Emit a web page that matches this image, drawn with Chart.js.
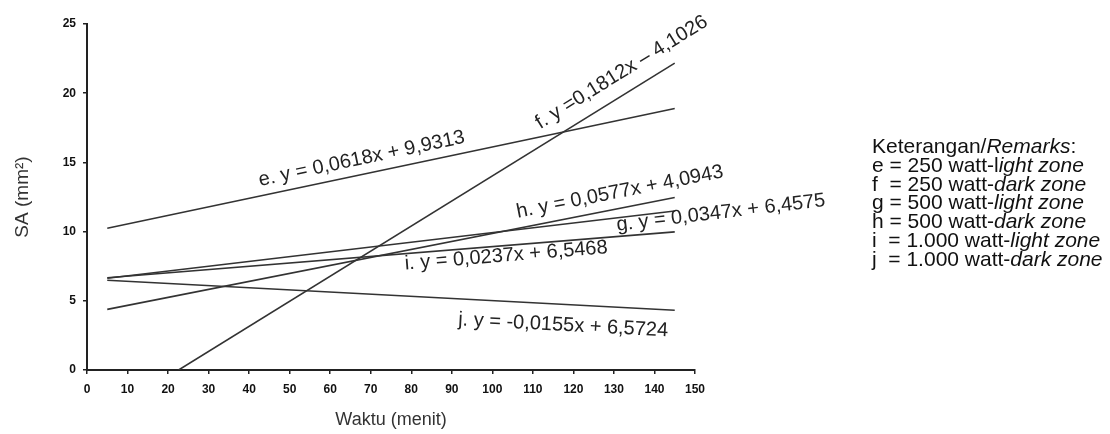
<!DOCTYPE html>
<html>
<head>
<meta charset="utf-8">
<script src="https://cdn.jsdelivr.net/npm/chart.js@4.4.0/dist/chart.umd.min.js"></script>
<style>
  html, body { margin: 0; padding: 0; background: #fff; }
  #wrap { position: relative; width: 1110px; height: 434px; }
  #legend {
    position: absolute; left: 872px; top: 137px;
    font: 21px "Liberation Sans", Arial, sans-serif;
    line-height: 18.8px; color: #111; white-space: pre;
  }
</style>
</head>
<body>
<div id="wrap">
  <canvas id="myChart" width="1110" height="434"></canvas>
  <div id="legend">Keterangan/<i>Remarks</i>:
e = 250 watt-l<i>ight zone</i>
f  = 250 watt-<i>dark zone</i>
g = 500 watt-<i>light zone</i>
h = 500 watt-<i>dark zone</i>
i  = 1.000 watt-<i>light zone</i>
j  = 1.000 watt-<i>dark zone</i></div>
</div>
<script>
// regression lines (start / end of each drawn segment)
const seriesNames = ['e', 'f', 'g', 'h', 'i', 'j'];
const startX = [5, 22.6, 5, 5, 5, 5];
const startY = [10.24, 0, 6.63, 4.38, 6.67, 6.49];
const endX = [145, 145, 145, 145, 145, 145];
const endY = [18.89, 22.17, 11.49, 12.46, 9.98, 4.32];
const equations = [
  'e. y = 0,0618x + 9,9313',
  'f. y =0,1812x \u2013 4,1026',
  'g. y = 0,0347x + 6,4575',
  'h. y = 0,0577x + 4,0943',
  'i. y = 0,0237x + 6,5468',
  'j. y = -0,0155x + 6,5724'
];
const xMin = 0, xMax = 150, xStep = 10;
const yMin = 0, yMax = 25, yStep = 5;

// where each equation text starts (data units), placed along its line
const labelAt = [
  [42.7, 13.3],
  [111.8, 17.4],
  [130.8, 10.06],
  [106.3, 11.0],
  [78.5, 7.26],
  [91.5, 3.23]
];

const fontFamily = '"Liberation Sans", Arial, sans-serif';

const eqLabels = {
  id: 'eqLabels',
  afterDatasetsDraw(chart) {
    const { ctx, scales: { x, y } } = chart;
    ctx.save();
    ctx.font = '20px ' + fontFamily;
    ctx.fillStyle = '#222';
    ctx.textBaseline = 'alphabetic';
    equations.forEach((text, i) => {
      const dx = x.getPixelForValue(endX[i]) - x.getPixelForValue(startX[i]);
      const dy = y.getPixelForValue(endY[i]) - y.getPixelForValue(startY[i]);
      ctx.save();
      ctx.translate(x.getPixelForValue(labelAt[i][0]), y.getPixelForValue(labelAt[i][1]));
      ctx.rotate(Math.atan2(dy, dx));
      ctx.fillText(text, 0, 0);
      ctx.restore();
    });
    ctx.restore();
  }
};

new Chart('myChart', {
  type: 'scatter',
  data: {
    datasets: seriesNames.map((name, i) => ({
      label: name,
      data: [
        { x: startX[i], y: startY[i] },
        { x: endX[i], y: endY[i] }
      ],
      showLine: true,
      borderColor: '#333',
      borderWidth: 1.6,
      pointRadius: 0,
      fill: false
    }))
  },
  options: {
    responsive: false,
    animation: false,
    layout: { padding: { left: 0, top: 24, right: 415, bottom: 0 } },
    plugins: { legend: { display: false }, tooltip: { enabled: false } },
    scales: {
      x: {
        type: 'linear',
        min: xMin,
        max: xMax,
        ticks: {
          stepSize: xStep,
          color: '#111',
          font: { family: fontFamily, size: 12, weight: 'bold' },
          padding: 8,
          maxRotation: 0
        },
        grid: { drawOnChartArea: false, tickLength: 4, color: '#222', lineWidth: 1.5 },
        border: { color: '#222', width: 2 },
        title: {
          display: true,
          text: 'Waktu (menit)',
          color: '#333',
          font: { family: fontFamily, size: 18 },
          padding: 3
        },
        afterFit(scale) { scale.height = 64; }
      },
      y: {
        type: 'linear',
        min: yMin,
        max: yMax,
        ticks: {
          stepSize: yStep,
          color: '#111',
          font: { family: fontFamily, size: 12, weight: 'bold' },
          padding: 7
        },
        grid: { drawOnChartArea: false, tickLength: 4, color: '#222', lineWidth: 1.5 },
        border: { color: '#222', width: 2 },
        title: {
          display: true,
          text: 'SA (mm\u00b2)',
          color: '#333',
          font: { family: fontFamily, size: 19 },
          padding: 11
        },
        afterFit(scale) { scale.width = 87; }
      }
    }
  },
  plugins: [eqLabels]
});
</script>
</body>
</html>
